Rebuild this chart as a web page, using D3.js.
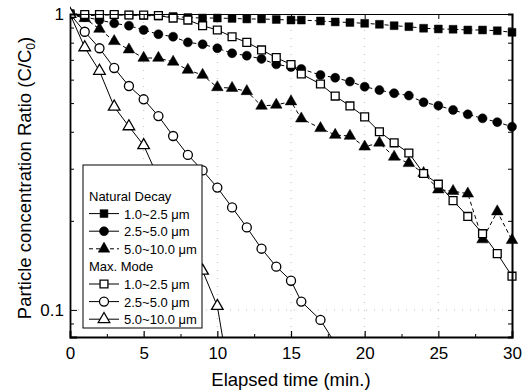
<!DOCTYPE html>
<html lang="en">
<head>
    <meta charset="UTF-8">
    <title>Particle concentration ratio</title>
    <script src="https://d3js.org/d3.v7.min.js"></script>
    <style>
        body { margin: 0; background: #fff; }
        svg text { font-family: Arial, "Liberation Sans", sans-serif; fill: #000; }
    </style>
</head>
<body>
<div id="chart"></div>
<script>
    // measurement times (min.) - the 16th reading was taken at ~15.7 min
    var times = [0, 1, 2, 3, 4, 5, 6, 7, 8, 9, 10, 11, 12, 13, 14, 15, 15.7,
                 17, 18, 19, 20, 21, 22, 23, 24, 25, 26, 27, 28, 29, 30];

    // Natural decay
    var nat_1_25 = [1.0, 0.985, 0.992, 0.992, 0.992, 0.988, 0.985, 0.981, 0.973, 0.969, 0.969,
                    0.966, 0.962, 0.962, 0.958, 0.954, 0.954, 0.947, 0.940, 0.936, 0.930,
                    0.923, 0.913, 0.906, 0.895, 0.890, 0.888, 0.883, 0.883, 0.878, 0.867];
    var nat_25_5 = [1.0, 0.977, 0.954, 0.930, 0.913, 0.883, 0.854, 0.838, 0.802, 0.790, 0.766,
                    0.737, 0.723, 0.705, 0.676, 0.662, 0.652, 0.622, 0.609, 0.591, 0.568,
                    0.553, 0.540, 0.530, 0.503, 0.490, 0.474, 0.458, 0.444, 0.431, 0.416];
    var nat_5_10 = [1.0, 0.967, 0.890, 0.809, 0.758, 0.710, 0.710, 0.689, 0.647, 0.622, 0.565,
                    0.562, 0.548, 0.489, 0.493, 0.506, 0.443, 0.411, 0.390, 0.387, 0.356,
                    0.367, 0.329, 0.313, 0.290, 0.255, 0.252, 0.247, 0.173, 0.215, 0.172];

    // Max. mode
    var max_1_25 = [1.0, 0.996, 0.996, 0.996, 0.992, 0.992, 0.988, 0.969, 0.954, 0.913, 0.883,
                    0.838, 0.802, 0.756, 0.712, 0.675, 0.627, 0.580, 0.528, 0.489, 0.449,
                    0.400, 0.367, 0.339, 0.289, 0.266, 0.234, 0.207, 0.181, 0.155, 0.130];
    var max_25_5 = [1.0, 0.871, 0.766, 0.657, 0.571, 0.515, 0.452, 0.387, 0.334, 0.296, 0.259,
                    0.222, 0.190, 0.161, 0.140, 0.1255, 0.1067, 0.0925, 0.077];
    var max_5_10 = [1.0, 0.771, 0.642, 0.486, 0.417, 0.360, 0.279, 0.221, 0.172, 0.1355, 0.103, 0.052];

    var series = [
        { name: "1.0~2.5 \u03bcm", values: nat_1_25, shape: "square",   filled: true,  dashed: true },
        { name: "2.5~5.0 \u03bcm", values: nat_25_5, shape: "circle",   filled: true,  dashed: true },
        { name: "5.0~10.0 \u03bcm", values: nat_5_10, shape: "triangle", filled: true,  dashed: true },
        { name: "1.0~2.5 \u03bcm", values: max_1_25, shape: "square",   filled: false, dashed: false },
        { name: "2.5~5.0 \u03bcm", values: max_25_5, shape: "circle",   filled: false, dashed: false },
        { name: "5.0~10.0 \u03bcm", values: max_5_10, shape: "triangle", filled: false, dashed: false }
    ];

    var xTicks = [0, 5, 10, 15, 20, 25, 30];
    var yMajor = [0.1, 1];
    var yMinor = [0.09, 0.2, 0.3, 0.4, 0.5, 0.6, 0.7, 0.8, 0.9];

    var W = 526, H = 392;
    var margin = { top: 14, right: 14, bottom: 55, left: 70 };
    var width = W - margin.left - margin.right;
    var height = H - margin.top - margin.bottom;

    var svg = d3.select("#chart").append("svg")
        .attr("width", W)
        .attr("height", H);

    var g = svg.append("g")
        .attr("transform", "translate(" + margin.left + "," + margin.top + ")");

    var x = d3.scaleLinear().domain([0, 30]).range([0, width]);
    var y = d3.scaleLog().domain([0.081, 1]).range([height, 0]);

    svg.append("defs").append("clipPath").attr("id", "plotclip")
        .append("rect").attr("x", 0).attr("y", -8).attr("width", width + 8).attr("height", height + 8);

    // faint dotted grid
    g.selectAll(".gx").data(xTicks.slice(1, -1)).enter().append("line")
        .attr("x1", function(d) { return x(d); }).attr("x2", function(d) { return x(d); })
        .attr("y1", 0).attr("y2", height)
        .attr("stroke", "#aaa").attr("stroke-width", 0.8).attr("stroke-dasharray", "1,7");
    g.append("line")
        .attr("x1", 0).attr("x2", width).attr("y1", y(0.1)).attr("y2", y(0.1))
        .attr("stroke", "#aaa").attr("stroke-width", 0.8).attr("stroke-dasharray", "1,7");

    // symbols
    function symbolFor(shape) {
        if (shape === "square") return d3.symbol().type(d3.symbolSquare).size(62);
        if (shape === "circle") return d3.symbol().type(d3.symbolCircle).size(64);
        return d3.symbol().type(d3.symbolTriangle).size(58);
    }

    var line = d3.line()
        .x(function(d) { return x(d.t); })
        .y(function(d) { return y(d.v); });

    var plot = g.append("g").attr("clip-path", "url(#plotclip)");

    series.forEach(function(s) {
        var pts = s.values.map(function(v, i) { return { t: times[i], v: v }; });
        plot.append("path")
            .datum(pts)
            .attr("d", line)
            .attr("fill", "none")
            .attr("stroke", "#000")
            .attr("stroke-width", 1)
            .attr("stroke-dasharray", s.dashed ? "4,3" : null);
        plot.selectAll(null)
            .data(pts.filter(function(d) { return d.v >= 0.081; }))
            .enter().append("path")
            .attr("transform", function(d) { return "translate(" + x(d.t) + "," + y(d.v) + ")"; })
            .attr("d", symbolFor(s.shape))
            .attr("fill", s.filled ? "#000" : "#fff")
            .attr("stroke", "#000")
            .attr("stroke-width", s.filled ? 0.5 : 1.3);
    });

    // axes
    var xAxis = d3.axisBottom(x).tickValues(xTicks).tickSize(-6).tickPadding(10).tickFormat(d3.format("d"));
    var gx = g.append("g").attr("transform", "translate(0," + height + ")").call(xAxis);
    gx.selectAll(".tick line").attr("stroke-width", 1.2);
    gx.select(".domain").attr("stroke-width", 1.8);
    gx.selectAll("text").style("font-size", "17px");

    var xMinor = d3.axisBottom(x).tickValues([2.5, 7.5, 12.5, 17.5, 22.5, 27.5]).tickSize(-3).tickFormat("");
    g.append("g").attr("transform", "translate(0," + height + ")").call(xMinor)
        .select(".domain").remove();

    var gxt = g.append("g").call(d3.axisTop(x).tickValues(xTicks).tickSize(-5).tickFormat(""));
    gxt.select(".domain").attr("stroke-width", 1.2);

    var yAxis = d3.axisLeft(y).tickValues(yMajor).tickSize(-7).tickPadding(6)
        .tickFormat(function(d) { return d === 1 ? "1" : "0.1"; });
    var gy = g.append("g").call(yAxis);
    gy.select(".domain").attr("stroke-width", 1.8);
    gy.selectAll("text").style("font-size", "17px");
    g.append("g").call(d3.axisLeft(y).tickValues(yMinor).tickSize(-4).tickFormat(""))
        .select(".domain").remove();

    var gyr = g.append("g").attr("transform", "translate(" + width + ",0)")
        .call(d3.axisRight(y).tickValues(yMajor.concat(yMinor)).tickSize(-4).tickFormat(""));
    gyr.select(".domain").attr("stroke-width", 2);

    // axis titles
    svg.append("text")
        .attr("x", 291)
        .attr("y", 386)
        .attr("text-anchor", "middle")
        .style("font-size", "18.5px")
        .text("Elapsed time (min.)");

    var yt = svg.append("text")
        .attr("transform", "translate(31,178) rotate(-90)")
        .attr("text-anchor", "middle")
        .style("font-size", "18.5px");
    yt.append("tspan").text("Particle concentration Ratio (C/C");
    yt.append("tspan").attr("dy", 4).style("font-size", "12px").text("0");
    yt.append("tspan").attr("dy", -4).text(")");

    // legend
    var lg = svg.append("g").attr("transform", "translate(83,165)");
    lg.append("rect").attr("width", 119).attr("height", 163)
        .attr("fill", "#fff").attr("stroke", "#000").attr("stroke-width", 1);

    var rowH = 17.6;
    var headers = [{ label: "Natural Decay", row: 0 }, { label: "Max. Mode", row: 4 }];
    headers.forEach(function(h) {
        lg.append("text").attr("x", 6).attr("y", 36 + h.row * rowH)
            .style("font-size", "13px").text(h.label);
    });

    series.forEach(function(s, i) {
        var row = i < 3 ? i + 1 : i + 2;
        var cy = 31 + row * rowH;
        lg.append("line").attr("x1", 6).attr("x2", 36).attr("y1", cy).attr("y2", cy)
            .attr("stroke", "#000").attr("stroke-width", 1)
            .attr("stroke-dasharray", i === 2 ? "4,3" : null);
        lg.append("path").attr("transform", "translate(21," + cy + ")")
            .attr("d", symbolFor(s.shape))
            .attr("fill", s.filled ? "#000" : "#fff")
            .attr("stroke", "#000").attr("stroke-width", s.filled ? 0.5 : 1.3);
        lg.append("text").attr("x", 41).attr("y", cy + 5)
            .style("font-size", "13px").text(s.name);
    });
</script>
</body>
</html>
